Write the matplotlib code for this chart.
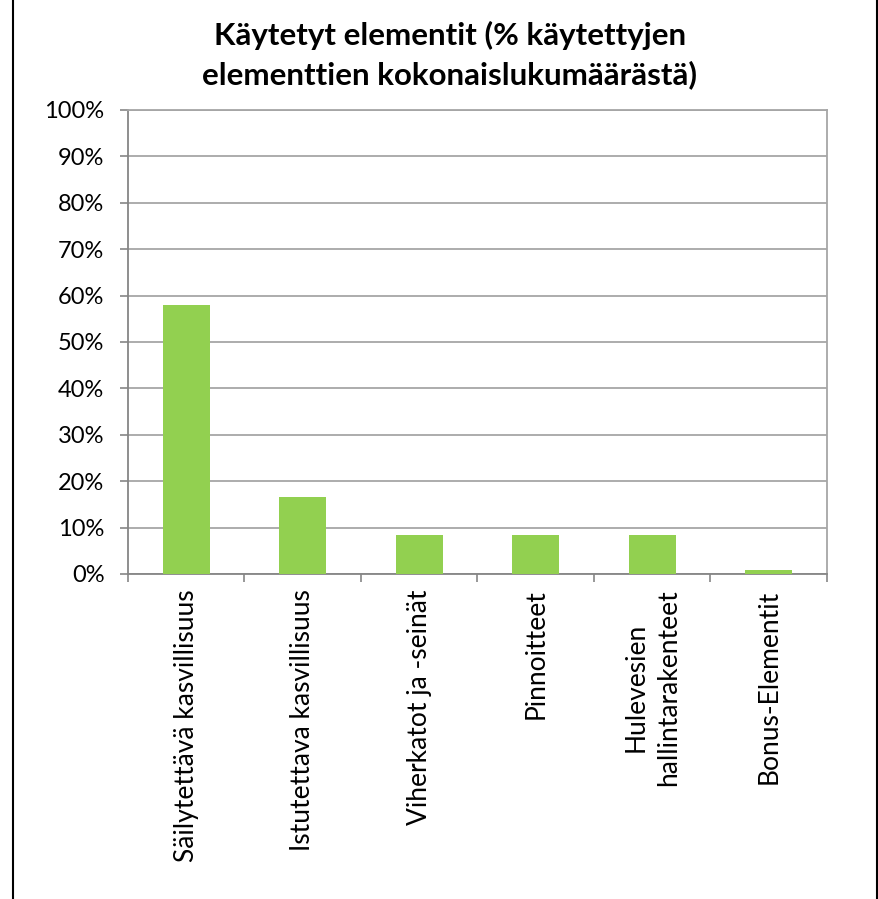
import numpy as np
import matplotlib
matplotlib.use("Agg")
import matplotlib.pyplot as plt
from matplotlib.lines import Line2D
from matplotlib.ticker import MultipleLocator, PercentFormatter

# 数据
categories = ["Säilytettävä kasvillisuus", "Istutettava kasvillisuus", "Viherkatot ja -seinät",
              "Pinnoitteet", "Hulevesien\nhallintarakenteet", "Bonus-Elementit"]
shares = [57.9, 16.5, 8.3, 8.3, 8.3, 0.8]

plt.rcParams['font.family'] = ['Lato', 'DejaVu Sans']

fig = plt.figure(figsize=(8.79, 8.99), dpi=100)
W, H = 879, 899
ax = fig.add_axes([128 / W, 1 - 574 / H, (827 - 128) / W, (574 - 110) / H])

x = np.arange(len(categories))
ax.bar(x, shares, width=0.4, color='#92D050', zorder=3)

ax.set_xlim(-0.5, len(categories) - 0.5)
ax.set_ylim(0, 100)
ax.yaxis.set_major_locator(MultipleLocator(10))
ax.yaxis.set_major_formatter(PercentFormatter(decimals=0))
ax.grid(axis='y', color='#A6A6A6', linewidth=1.3, zorder=0)

ax.set_xticks(x)
ax.set_xticklabels(categories, rotation=90, va='top', ha='center', multialignment='center',
                   linespacing=1.4)
ax.set_xticks(np.arange(len(categories) + 1) - 0.5, minor=True)
ax.tick_params(axis='x', which='major', length=0, pad=11, labelsize=19)
ax.tick_params(axis='x', which='minor', length=6, color='#868686', width=1.2, direction='out')
ax.tick_params(axis='y', length=6, color='#868686', width=1.2, direction='out', pad=11, labelsize=17)

for s in ['left', 'bottom']:
    ax.spines[s].set_color('#868686')
    ax.spines[s].set_linewidth(1.3)
for s in ['top', 'right']:
    ax.spines[s].set_color('#A6A6A6')
    ax.spines[s].set_linewidth(1.3)

# 标题
fig.text(450 / W, 1 - 55 / H, "Käytetyt elementit (% käytettyjen\nelementtien kokonaislukumäärästä)",
         ha='center', va='center', fontsize=22.5, fontweight='bold', linespacing=1.45)

# 外框竖线
fig.add_artist(Line2D([13 / W, 13 / W], [0, 1], color='black', linewidth=1.5))
fig.add_artist(Line2D([877.5 / W, 877.5 / W], [0, 1], color='black', linewidth=1.5))

plt.savefig("out.png", dpi=100)
